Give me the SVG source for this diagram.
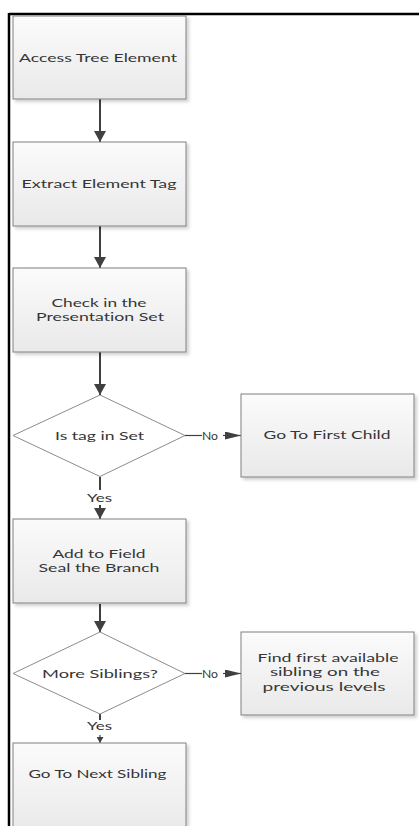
<svg xmlns="http://www.w3.org/2000/svg" width="419" height="826" viewBox="0 0 419 826">
<style>
.box{fill:url(#g);stroke:#808080;stroke-width:1;filter:url(#sh)}
.dia{fill:#ffffff;stroke:#8c8c8c;stroke-width:1}
.t{font-family:Lato,"Open Sans","Liberation Sans",sans-serif;font-size:12px;fill:#363636;text-anchor:middle;font-variant-ligatures:none;font-feature-settings:"liga" 0,"dlig" 0}
.c{stroke:#404040;stroke-width:2;fill:none}
.c1{stroke:#404040;stroke-width:1.2;fill:none}
</style>
<defs>
<linearGradient id="g" x1="0" y1="0" x2="0" y2="1">
<stop offset="0" stop-color="#fbfbfb"/>
<stop offset="1" stop-color="#e9e9e9"/>
</linearGradient>
<filter id="sh" x="-10%" y="-10%" width="130%" height="130%">
<feDropShadow dx="2.5" dy="2.5" stdDeviation="1.5" flood-color="#000" flood-opacity="0.18"/>
</filter>
<marker id="a" viewBox="0 0 11 12" markerWidth="11" markerHeight="12" refX="11" refY="6" orient="auto" markerUnits="userSpaceOnUse">
<polygon points="0,0 11,6 0,12" fill="#404040"/>
</marker>
<marker id="ah" viewBox="0 0 16 8" markerWidth="16" markerHeight="8" refX="16" refY="4" orient="auto" markerUnits="userSpaceOnUse">
<polygon points="0,0 16,4 0,8" fill="#404040"/>
</marker>
<marker id="as" viewBox="0 0 6 7" markerWidth="6" markerHeight="7" refX="6" refY="3.5" orient="auto" markerUnits="userSpaceOnUse">
<polygon points="0,0 6,3.5 0,7" fill="#404040"/>
</marker>
</defs>
<rect width="419" height="826" fill="#ffffff"/>
<g id="frame">
<line x1="9" y1="14" x2="419" y2="14" stroke="#000" stroke-width="2.5"/>
<line x1="9" y1="13" x2="9" y2="826" stroke="#000" stroke-width="2.5"/>
</g>
<g id="connectors">
<line class="c" x1="100" y1="99" x2="100" y2="142" marker-end="url(#a)"/>
<line class="c" x1="100" y1="226" x2="100" y2="268" marker-end="url(#a)"/>
<line class="c" x1="100" y1="352" x2="100" y2="395" marker-end="url(#a)"/>
<line class="c" x1="100" y1="477" x2="100" y2="490"/>
<text class="t" x="99.5" y="502" textLength="25" lengthAdjust="spacingAndGlyphs">Yes</text>
<line class="c" x1="100" y1="505" x2="100" y2="519" marker-end="url(#a)"/>
<line class="c" x1="100" y1="604" x2="100" y2="632" marker-end="url(#a)"/>
<line class="c" x1="100" y1="714" x2="100" y2="720"/>
<text class="t" x="99.5" y="730" textLength="25" lengthAdjust="spacingAndGlyphs">Yes</text>
<line class="c1" x1="100" y1="735" x2="100" y2="743" marker-end="url(#as)"/>
<line class="c1" x1="185" y1="435.5" x2="202" y2="435.5"/>
<text class="t" x="210" y="440" textLength="16" lengthAdjust="spacingAndGlyphs">No</text>
<line class="c1" x1="223" y1="435.5" x2="241" y2="435.5" marker-end="url(#ah)"/>
<line class="c1" x1="185" y1="673.5" x2="202" y2="673.5"/>
<text class="t" x="210" y="678" textLength="16" lengthAdjust="spacingAndGlyphs">No</text>
<line class="c1" x1="223" y1="673.5" x2="241" y2="673.5" marker-end="url(#ah)"/>
</g>
<g id="n1">
<rect class="box" x="13" y="16" width="173" height="83"/>
<text class="t" x="98" y="62" textLength="158" lengthAdjust="spacingAndGlyphs">Access Tree Element</text>
</g>
<g id="n2">
<rect class="box" x="13" y="142" width="173" height="84"/>
<text class="t" x="99" y="188" textLength="155" lengthAdjust="spacingAndGlyphs">Extract Element Tag</text>
</g>
<g id="n3">
<rect class="box" x="13" y="268" width="173" height="84"/>
<text class="t" x="99" y="306.5" textLength="95" lengthAdjust="spacingAndGlyphs">Check in the</text>
<text class="t" x="100" y="321" textLength="128" lengthAdjust="spacingAndGlyphs">Presentation Set</text>
</g>
<g id="d1">
<polygon class="dia" points="100,395 185,435.5 100,476.5 13,435.5"/>
<text class="t" x="99.5" y="440" textLength="89" lengthAdjust="spacingAndGlyphs">Is tag in Set</text>
</g>
<g id="n4">
<rect class="box" x="241" y="394" width="173" height="83"/>
<text class="t" x="327" y="439" textLength="127" lengthAdjust="spacingAndGlyphs">Go To First Child</text>
</g>
<g id="n5">
<rect class="box" x="13" y="519" width="173" height="84"/>
<text class="t" x="99" y="557.5" textLength="93" lengthAdjust="spacingAndGlyphs">Add to Field</text>
<text class="t" x="99" y="572" textLength="121" lengthAdjust="spacingAndGlyphs">Seal the Branch</text>
</g>
<g id="d2">
<polygon class="dia" points="100,632 185,673.5 100,714 13,673.5"/>
<text class="t" x="100" y="677.5" textLength="116" lengthAdjust="spacingAndGlyphs">More Siblings?</text>
</g>
<g id="n6">
<rect class="box" x="241" y="632" width="173" height="83"/>
<text class="t" x="328" y="661.5" textLength="141" lengthAdjust="spacingAndGlyphs">Find first available</text>
<text class="t" x="325" y="676" textLength="110" lengthAdjust="spacingAndGlyphs">sibling on the</text>
<text class="t" x="324" y="690.5" textLength="123" lengthAdjust="spacingAndGlyphs">previous levels</text>
</g>
<g id="n7">
<rect class="box" x="13" y="743" width="173" height="90"/>
<text class="t" x="97.5" y="778" textLength="138" lengthAdjust="spacingAndGlyphs">Go To Next Sibling</text>
</g>
</svg>
